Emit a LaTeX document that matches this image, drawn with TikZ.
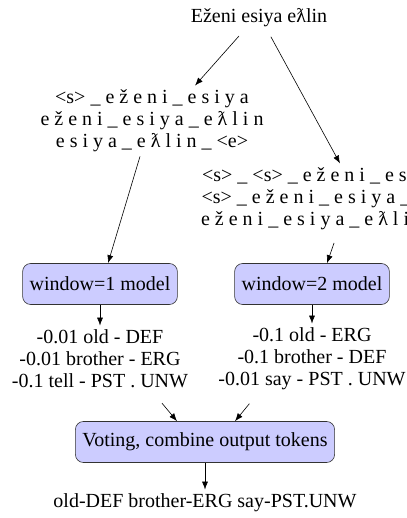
\documentclass[tikz,border=0pt]{standalone}
\usepackage{fontspec}
\setmainfont{Liberation Serif}
\usepackage{tikz}
\usetikzlibrary{arrows.meta,positioning}

\begin{document}
\begin{tikzpicture}[x=1pt, y=-1pt, semithick, >={Latex[length=8pt,width=6pt]},
    every node/.style={font=\fontsize{20}{22}\selectfont},
    txt/.style={align=center, inner sep=4pt},
    model/.style={draw=black!80, fill=blue!20, rounded corners=8pt,
      minimum height=41pt, inner sep=7pt}]
    \useasboundingbox (0,0) rectangle (406,518);
    % Input sentence
    \node[txt] (sent) at (259,18) {Eženi esiya eƛlin};
    % Windowed inputs
    \node[txt] (ctxone) at (152,121) {<s> \_ e ž e n i \_ e s i y a\\
      e ž e n i \_ e s i y a \_ e ƛ l i n\\
      e s i y a \_ e ƛ l i n \_ <e>};
    \node[txt] (ctxtwo) at (364,199) {<s> \_ <s> \_ e ž e n i \_ e s i y a \_ e ƛ l i n\\
      <s> \_ e ž e n i \_ e s i y a \_ e ƛ l i n \_ <e>\\
      e ž e n i \_ e s i y a \_ e ƛ l i n \_ <e> \_ <e>};
    % Models
    \node[model] (winone) at (100,284) {window=1 model};
    \node[model] (wintwo) at (312,284) {window=2 model};
    % Scored outputs
    \node[txt] (outone) at (100,359) {-0.01 old - DEF\\-0.01 brother - ERG\\-0.1 tell - PST . UNW};
    \node[txt] (outtwo) at (312,359) {-0.1 old - ERG\\-0.1 brother - DEF\\-0.01 say - PST . UNW};
    % Voting
    \node[model] (vote) at (205,442) {Voting, combine output tokens};
    \node[txt] (final) at (205,503) {old-DEF brother-ERG say-PST.UNW};

    % Arrows
    \draw[->, shorten <=6pt] ([xshift=-16]sent.south) -- ([xshift=43]ctxone.north);
    \draw[->, shorten <=6pt] ([xshift=9]sent.south) -- ([xshift=-24]ctxtwo.north);
    \draw[->] ([xshift=-12]ctxone.south) -- ([xshift=8]winone.north);
    \draw[->, shorten <=9pt] ([xshift=-27]ctxtwo.south) -- ([xshift=15]wintwo.north);
    \draw[->] (winone) -- (outone);
    \draw[->] (wintwo) -- (outtwo);
    \draw[->, shorten <=14pt] ([xshift=53]outone.south) -- ([xshift=-28]vote.north);
    \draw[->, shorten <=12pt] ([xshift=-55]outtwo.south) -- ([xshift=30]vote.north);
    \draw[->] (vote) -- (final);
\end{tikzpicture}
\end{document}
